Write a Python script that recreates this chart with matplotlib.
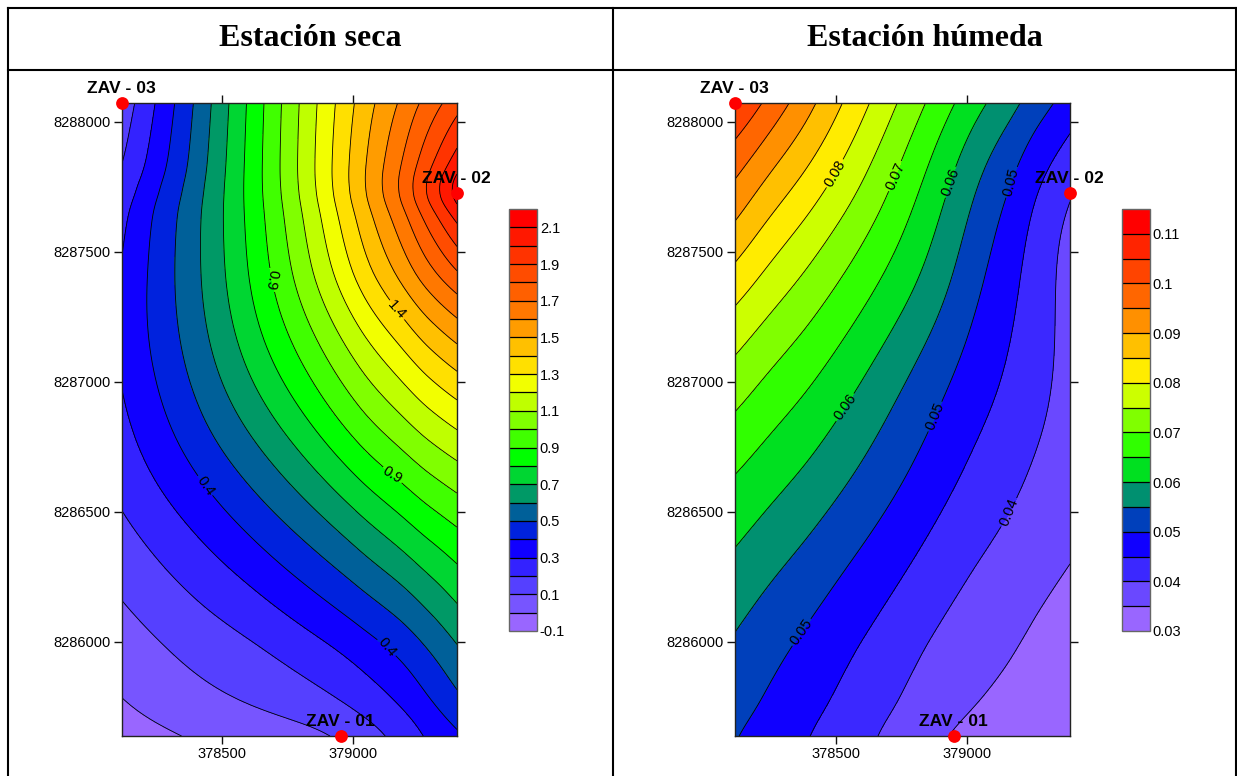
import numpy as np
import matplotlib
matplotlib.use("Agg")
import matplotlib.pyplot as plt
from matplotlib.colors import ListedColormap, BoundaryNorm
from matplotlib.lines import Line2D

plt.rcParams['font.family'] = ['Liberation Sans', 'DejaVu Sans']

W, H = 1237, 776

titles = ["Estación seca", "Estación húmeda"]
station_names = ["ZAV - 01", "ZAV - 02", "ZAV - 03"]

# ---- Dry season ----
dry_x = [378118, 378263, 378416, 378569, 378721, 378874, 379027, 379179, 379294, 379397]
dry_y = [8288073, 8287854, 8287738, 8287623, 8287392, 8287162, 8286931, 8286700, 8286469, 8286238, 8286008, 8285777, 8285638]
dry_z = [
    [0.14, 0.31, 0.535, 0.765, 0.99, 1.22, 1.435, 1.63, 1.75, 1.86],
    [0.20, 0.35, 0.56, 0.78, 1.00, 1.24, 1.47, 1.735, 1.89, 2.04],
    [0.245, 0.395, 0.575, 0.78, 0.99, 1.225, 1.46, 1.74, 1.97, 2.24],
    [0.275, 0.44, 0.59, 0.78, 0.975, 1.20, 1.44, 1.695, 1.88, 2.05],
    [0.32, 0.445, 0.60, 0.765, 0.95, 1.13, 1.35, 1.535, 1.655, 1.74],
    [0.33, 0.435, 0.575, 0.72, 0.87, 1.00, 1.16, 1.32, 1.43, 1.51],
    [0.295, 0.395, 0.52, 0.635, 0.76, 0.90, 1.03, 1.155, 1.235, 1.295],
    [0.26, 0.335, 0.44, 0.53, 0.62, 0.73, 0.875, 0.975, 1.045, 1.10],
    [0.19, 0.255, 0.325, 0.415, 0.50, 0.58, 0.665, 0.80, 0.865, 0.915],
    [0.12, 0.17, 0.235, 0.285, 0.36, 0.44, 0.52, 0.61, 0.68, 0.75],
    [0.06, 0.10, 0.15, 0.18, 0.235, 0.29, 0.36, 0.45, 0.535, 0.62],
    [-0.01, 0.03, 0.065, 0.09, 0.115, 0.155, 0.195, 0.29, 0.36, 0.45],
    [-0.05, -0.015, 0.015, 0.035, 0.055, 0.08, 0.135, 0.24, 0.325, 0.385],
]
dry_levels = [-0.1, 0.0, 0.1, 0.2, 0.3, 0.4, 0.5, 0.6, 0.7, 0.8, 0.9, 1.0, 1.1, 1.2,
              1.3, 1.4, 1.5, 1.6, 1.7, 1.8, 1.9, 2.0, 2.1, 2.2]
dry_colors = ["#9966ff", "#7755ff", "#5540ff", "#3322ff", "#1000ff", "#0022dd", "#006099",
              "#009966", "#00d632", "#00ff00", "#40ff00", "#80ff00", "#bfff00", "#f2ff00",
              "#ffe000", "#ffc000", "#ff9c00", "#ff7800", "#ff6000", "#ff4c00", "#ff3300",
              "#ff1800", "#ff0000"]
dry_ticks = [-0.1, 0.1, 0.3, 0.5, 0.7, 0.9, 1.1, 1.3, 1.5, 1.7, 1.9, 2.1]
dry_ticklabels = ["-0.1", "0.1", "0.3", "0.5", "0.7", "0.9", "1.1", "1.3", "1.5", "1.7", "1.9", "2.1"]
dry_lims = (378118, 379397)
dry_stations_x = [378955, 379397, 378118]
stations_y = [8285638, 8287725, 8288073]
dry_labels = [(0.9, 378676, 8287392, -100), (1.4, 379160, 8287250, -48),
              (0.9, 379149, 8286631, -32), (0.4, 378435, 8286592, -55),
              (0.4, 379134, 8285969, -50)]

# ---- Wet season ----
wet_x = [378114, 378248, 378401, 378553, 378706, 378859, 379011, 379164, 379279, 379393]
wet_y = [8288073, 8287854, 8287623, 8287392, 8287162, 8286931, 8286700, 8286469, 8286238, 8286008, 8285777, 8285638]
wet_z = [
    [0.105, 0.099, 0.091, 0.0835, 0.0763, 0.069, 0.0625, 0.056, 0.0518, 0.0478],
    [0.097, 0.0923, 0.0854, 0.0797, 0.0718, 0.065, 0.0572, 0.0503, 0.046, 0.0425],
    [0.0905, 0.084, 0.0787, 0.0734, 0.0678, 0.0617, 0.054, 0.0475, 0.0425, 0.038],
    [0.0825, 0.0783, 0.0734, 0.0689, 0.0638, 0.0591, 0.0518, 0.0458, 0.042, 0.038],
    [0.0762, 0.0725, 0.0685, 0.0642, 0.0595, 0.0545, 0.0495, 0.0444, 0.0418, 0.0385],
    [0.071, 0.0675, 0.064, 0.06, 0.0553, 0.051, 0.047, 0.0435, 0.041, 0.0385],
    [0.0658, 0.0632, 0.06, 0.0562, 0.0525, 0.0487, 0.0446, 0.0417, 0.0395, 0.0375],
    [0.0618, 0.0593, 0.0558, 0.0525, 0.0492, 0.0454, 0.0423, 0.0393, 0.0375, 0.0365],
    [0.0578, 0.055, 0.052, 0.0488, 0.0458, 0.0425, 0.0392, 0.0375, 0.036, 0.0345],
    [0.0545, 0.052, 0.049, 0.046, 0.0428, 0.0396, 0.0376, 0.0355, 0.0338, 0.0325],
    [0.0515, 0.0488, 0.046, 0.0428, 0.0402, 0.0375, 0.0348, 0.0335, 0.0325, 0.0315],
    [0.0503, 0.0478, 0.0451, 0.042, 0.0392, 0.036, 0.0335, 0.0325, 0.0315, 0.031],
]
wet_levels = [0.03, 0.035, 0.04, 0.045, 0.05, 0.055, 0.06, 0.065, 0.07, 0.075, 0.08,
              0.085, 0.09, 0.095, 0.1, 0.105, 0.11, 0.115]
wet_colors = ["#9966ff", "#6a48ff", "#3b28ff", "#1000ff", "#0040bb", "#009070", "#00e020",
              "#30ff00", "#80ff00", "#ccff00", "#ffec00", "#ffc000", "#ff9000", "#ff6600",
              "#ff4400", "#ff2400", "#ff0000"]
wet_ticks = [0.03, 0.04, 0.05, 0.06, 0.07, 0.08, 0.09, 0.1, 0.11]
wet_ticklabels = ["0.03", "0.04", "0.05", "0.06", "0.07", "0.08", "0.09", "0.1", "0.11"]
wet_lims = (378114, 379393)
wet_stations_x = [378950, 379393, 378114]
wet_labels = [(0.08, 378508, 8287785, 60), (0.07, 378721, 8287785, 66),
              (0.06, 378939, 8287785, 70), (0.05, 379157, 8287790, 76),
              (0.06, 378534, 8286912, 55), (0.05, 378878, 8286854, 68),
              (0.04, 379160, 8286485, 68), (0.05, 378374, 8286038, 55)]

y_ticks = [8286000, 8286500, 8287000, 8287500, 8288000]
x_ticks = [378500, 379000]
y_lims = (8285638, 8288073)


def upsample_axis(a, n=8):
    """Draw-time Catmull-Rom resampling so that contour lines come out smooth."""
    a = np.asarray(a, float)
    m = a.shape[0]
    ext = np.concatenate([[2 * a[0] - a[1]], a, [2 * a[-1] - a[-2]]], axis=0)
    t = np.linspace(0, m - 1, (m - 1) * n + 1)
    i = np.minimum(t.astype(int), m - 2)
    u = (t - i).reshape((-1,) + (1,) * (a.ndim - 1))
    p0, p1, p2, p3 = ext[i], ext[i + 1], ext[i + 2], ext[i + 3]
    return 0.5 * (2 * p1 + (p2 - p0) * u + (2 * p0 - 5 * p1 + 4 * p2 - p3) * u ** 2
                  + (3 * p1 - p0 - 3 * p2 + p3) * u ** 3)


def soften(a, sigma=6.0):
    """Gaussian softening along axis 0; odd reflection keeps the edge values."""
    r = int(3 * sigma)
    k = np.exp(-0.5 * (np.arange(-r, r + 1) / sigma) ** 2)
    k /= k.sum()
    top = 2 * a[0] - a[r:0:-1]
    bot = 2 * a[-1] - a[-2:-r - 2:-1]
    e = np.concatenate([top, a, bot], axis=0)
    return np.apply_along_axis(lambda c: np.convolve(c, k, mode='valid'), 0, e)


def field(z):
    zz = upsample_axis(upsample_axis(np.array(z)).T).T
    return soften(soften(zz).T).T


def box(l, t, r, b):
    return [l / W, 1 - b / H, (r - l) / W, (b - t) / H]


def panel(fig, left, title, title_x, xs, ys, z, levels, colors, ticks, ticklabels, lims, st_x, labels):
    ax = fig.add_axes(box(left, 103, left + 335, 736))
    xx = upsample_axis(xs)
    yy = upsample_axis(ys)
    zz = field(z)
    cmap = ListedColormap(colors)
    norm = BoundaryNorm(levels, cmap.N)
    cf = ax.contourf(xx, yy, zz, levels=levels, cmap=cmap, norm=norm)
    cs = ax.contour(xx, yy, zz, levels=levels, colors='k', linewidths=0.6)
    ax.set_xlim(lims)
    ax.set_ylim(y_lims)
    # Put each label on the vertex of its own contour level closest to the wanted place
    spots = []
    for val, lx, ly, rot in labels:
        v = cs.get_paths()[levels.index(val)].vertices
        d = ((v[:, 0] - lx) / 1279) ** 2 + ((v[:, 1] - ly) / 2435) ** 2
        spots.append(tuple(v[np.argmin(d)]))
    ax.clabel(cs, manual=spots, inline=True, inline_spacing=2,
              fontsize=10.5, fmt='%g', colors='k')
    for txt, (val, _, _, rot) in zip(cs.labelTexts, labels):
        txt.set_rotation(rot)
    ax.set_xticks(x_ticks)
    ax.set_yticks(y_ticks)
    ax.ticklabel_format(useOffset=False, style='plain')
    ax.tick_params(axis='both', length=6, width=1, labelsize=10.5, pad=2,
                   top=True, right=True, color='#111111')
    for s in ax.spines.values():
        s.set_linewidth(1.0)
        s.set_color('#222222')
    ax.plot(st_x, stations_y, 'o', color='#ff0000', ms=9.2, mec='none', clip_on=False, zorder=10)
    for name, sx, sy in zip(station_names, st_x, stations_y):
        ax.annotate(name, (sx, sy), xytext=(-0.5, 10.5), textcoords='offset points', ha='center',
                    va='center', fontsize=12.6, fontweight='bold', annotation_clip=False, zorder=11)
    cax = fig.add_axes(box(left + 387, 209, left + 415, 631))
    cb = fig.colorbar(cf, cax=cax, ticks=ticks, drawedges=True)
    cb.ax.minorticks_off()
    cb.ax.set_yticks(ticks)
    cb.ax.set_yticklabels(ticklabels)
    cb.ax.tick_params(length=0, labelsize=10.5, pad=2)
    cb.dividers.set_color('k')
    cb.dividers.set_linewidth(0.9)
    cb.outline.set_edgecolor('#666666')
    cb.outline.set_linewidth(1.0)
    fig.text(title_x / W, 1 - 38 / H, title, ha='center', va='center',
             fontsize=23, fontweight='bold', family='Liberation Serif')


fig = plt.figure(figsize=(W / 100, H / 100), dpi=100, facecolor='white')
panel(fig, 122, titles[0], 310, dry_x, dry_y, dry_z, dry_levels, dry_colors, dry_ticks, dry_ticklabels,
      dry_lims, dry_stations_x, dry_labels)
panel(fig, 735, titles[1], 925, wet_x, wet_y, wet_z, wet_levels, wet_colors, wet_ticks, wet_ticklabels,
      wet_lims, wet_stations_x, wet_labels)

for xs_, ys_ in [((8, 8), (8, 776)), ((613, 613), (8, 776)), ((1236, 1236), (8, 776)),
                 ((8, 1236), (8, 8)), ((8, 1236), (70, 70))]:
    fig.add_artist(Line2D([v / W for v in xs_], [1 - v / H for v in ys_], color='k', lw=1.5,
                          transform=fig.transFigure))

fig.savefig('out.png', dpi=100)
